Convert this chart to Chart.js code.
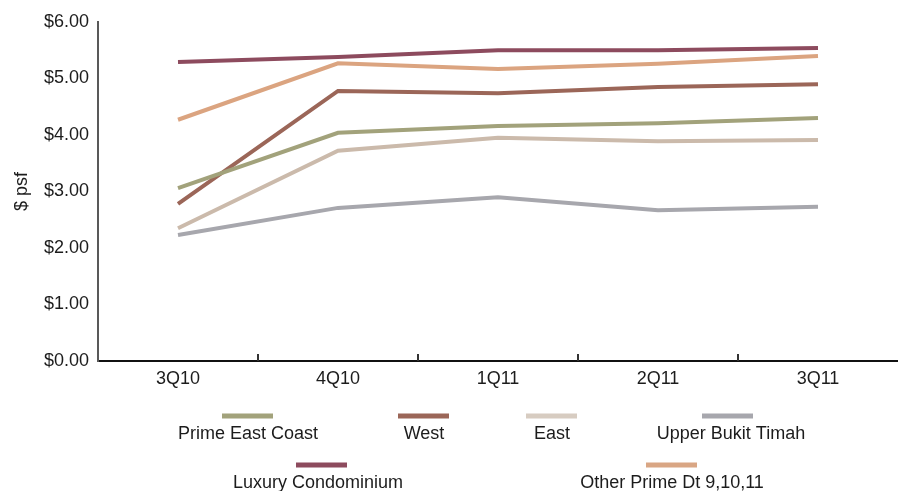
<!DOCTYPE html>
<html>
<head>
<meta charset="utf-8">
<script src="https://cdn.jsdelivr.net/npm/chart.js@4/dist/chart.umd.min.js"></script>
<style>
  html, body { margin: 0; padding: 0; background: #fff; }
  #wrap { position: relative; width: 898px; height: 491px; }
</style>
</head>
<body>
<div id="wrap"><canvas id="c" width="898" height="491"></canvas></div>
<script>
// Quarterly rental values ($ psf per month) by residential submarket
const quarters = ['3Q10', '4Q10', '1Q11', '2Q11', '3Q11'];

const primeEastCoast = [3.06, 4.04, 4.16, 4.21, 4.30];
const west           = [2.78, 4.78, 4.74, 4.85, 4.90];
const east           = [2.35, 3.72, 3.95, 3.89, 3.91];
const upperBukitTimah= [2.23, 2.71, 2.90, 2.67, 2.73];
const luxuryCondo    = [5.29, 5.38, 5.50, 5.50, 5.54];
const otherPrime     = [4.27, 5.27, 5.17, 5.26, 5.40];

const seriesNames = ['Prime East Coast', 'West', 'East', 'Upper Bukit Timah',
                     'Luxury Condominium', 'Other Prime Dt 9,10,11'];
const seriesData  = [primeEastCoast, west, east, upperBukitTimah, luxuryCondo, otherPrime];
const lineColors  = ['#a2a27b', '#9b6658', '#cbbaab', '#a7a7ad', '#8d4b5e', '#dba480'];
const keyColors   = ['#a2a27b', '#9b6658', '#d7ccc1', '#a7a7ad', '#8d4b5e', '#d9a684'];

const FONT = '"Liberation Sans", Arial, Helvetica, sans-serif';
const TEXT = '#1c1c1c';
const FS = 18;

// Legend drawn in two rows: key line above, caption centred beneath
const legendSlots = [
  { x: 248, y: 416 }, { x: 424, y: 416 }, { x: 552, y: 416 }, { x: 728, y: 416 },
  { x: 322, y: 465 }, { x: 672, y: 465 }
];

const keyLegend = {
  id: 'keyLegend',
  afterDraw(chart) {
    const ctx = chart.ctx;
    ctx.save();
    chart.data.datasets.forEach((ds, i) => {
      const s = legendSlots[i];
      ctx.fillStyle = keyColors[i];
      ctx.fillRect(s.x - 26, s.y - 2.5, 51, 5);
      ctx.fillStyle = TEXT;
      ctx.font = FS + 'px ' + FONT;
      ctx.textAlign = 'center';
      ctx.textBaseline = 'middle';
      const tx = (i === 3) ? s.x + 3 : (i === 4 ? s.x - 4 : s.x);
      ctx.fillText(ds.label, tx, s.y + 18);
    });
    ctx.restore();
  }
};

// Short inward ticks on the category axis, between neighbouring categories
const between = {
  id: 'between',
  afterDraw(chart) {
    const xs = chart.scales.x;
    const ctx = chart.ctx;
    ctx.save();
    ctx.strokeStyle = '#333';
    ctx.lineWidth = 2;
    for (let i = 0; i < quarters.length - 1; i++) {
      const px = Math.round((xs.getPixelForValue(i) + xs.getPixelForValue(i + 1)) / 2);
      ctx.beginPath();
      ctx.moveTo(px, xs.top - 7);
      ctx.lineTo(px, xs.top);
      ctx.stroke();
    }
    ctx.restore();
  }
};

new Chart(document.getElementById('c'), {
  type: 'line',
  data: {
    labels: quarters,
    datasets: seriesData.map((d, i) => ({
      label: seriesNames[i],
      data: d,
      borderColor: lineColors[i],
      backgroundColor: lineColors[i],
      borderWidth: 4,
      pointRadius: 0,
      tension: 0,
      fill: false
    }))
  },
  options: {
    responsive: false,
    animation: false,
    devicePixelRatio: 1,
    layout: { padding: { top: 22, right: 0, bottom: 0, left: 0 } },
    plugins: {
      legend: { display: false },
      tooltip: { enabled: false }
    },
    scales: {
      x: {
        offset: true,
        grid: { display: false, drawTicks: false },
        border: { display: true, color: '#111', width: 2 },
        ticks: { color: TEXT, font: { family: FONT, size: FS }, padding: 7 },
        afterFit(scale) { scale.height = 130; }
      },
      y: {
        min: 0,
        max: 6,
        grid: { display: false, drawTicks: false },
        border: { display: true, color: '#595959', width: 2 },
        ticks: {
          stepSize: 1,
          color: TEXT,
          font: { family: FONT, size: FS },
          padding: 9,
          callback: v => '$' + Number(v).toFixed(2)
        },
        title: {
          display: true,
          text: '$ psf',
          color: TEXT,
          font: { family: FONT, size: FS },
          padding: { top: 11, bottom: 0 }
        },
        afterFit(scale) { scale.width = 98; }
      }
    }
  },
  plugins: [keyLegend, between]
});
</script>
</body>
</html>
